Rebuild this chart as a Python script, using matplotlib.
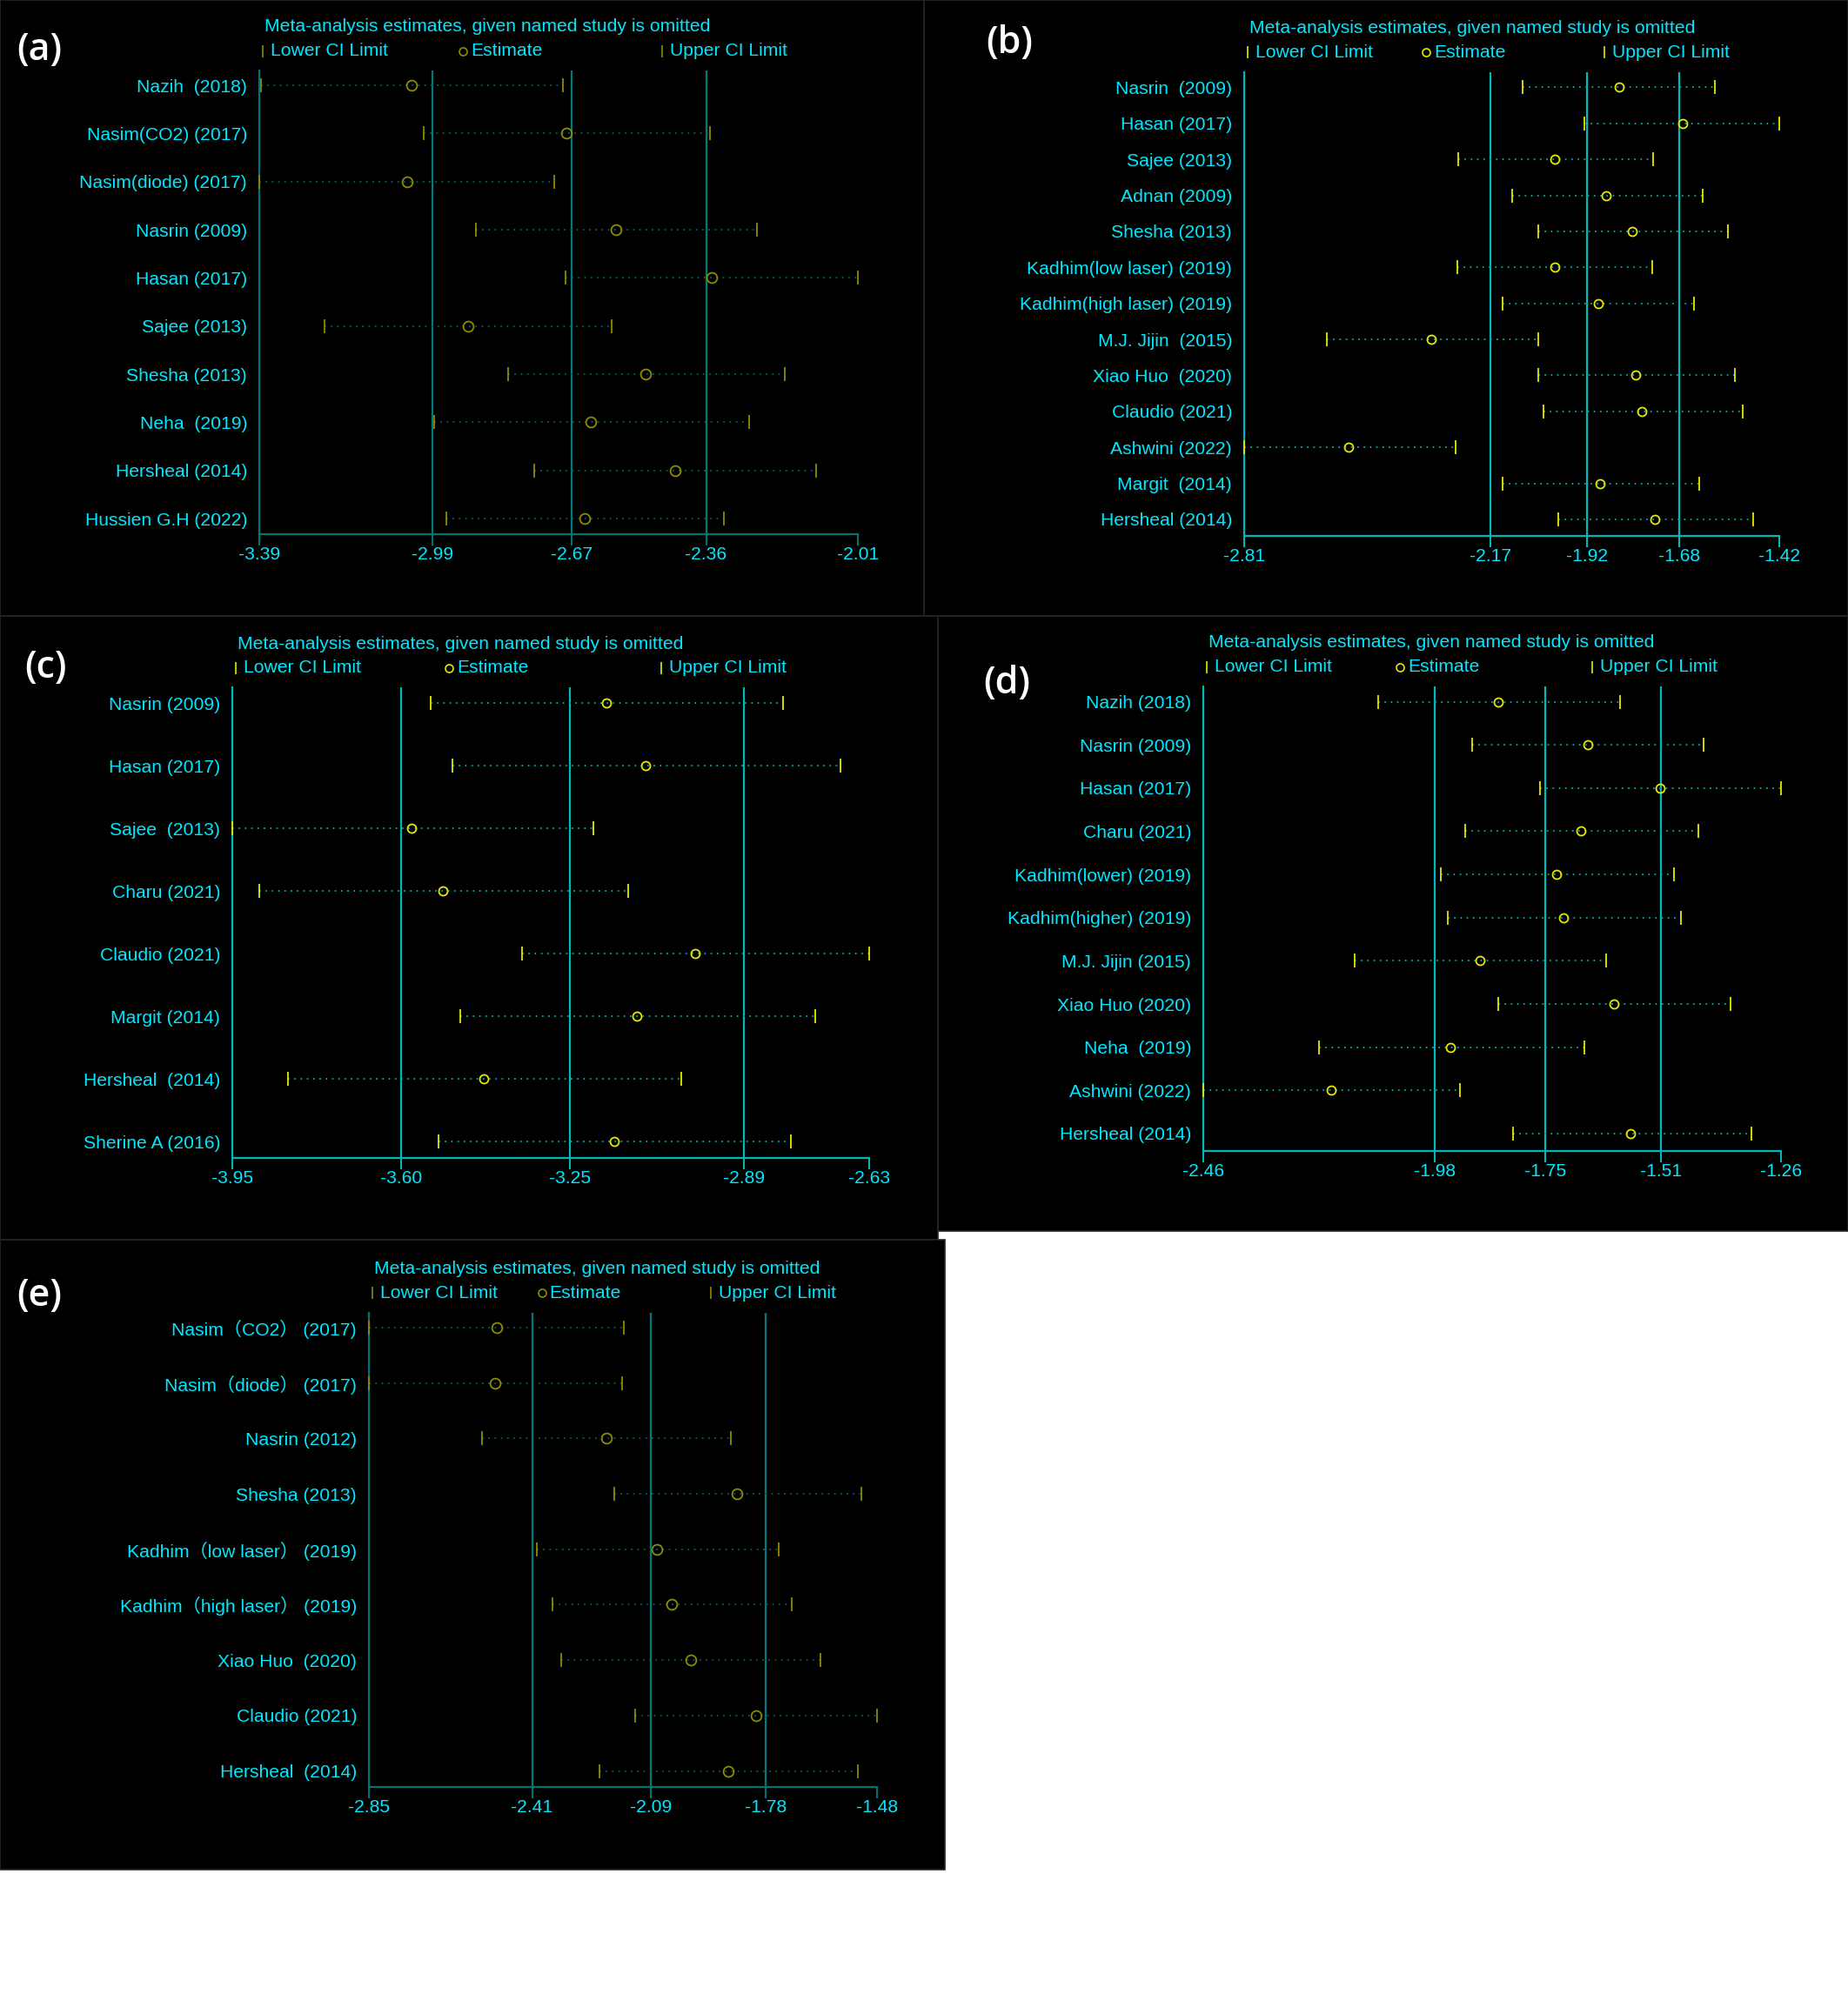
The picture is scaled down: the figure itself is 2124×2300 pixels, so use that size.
import matplotlib
matplotlib.use("Agg")
import matplotlib.pyplot as plt
from matplotlib.patches import Rectangle

plt.rcParams['font.family'] = ['Liberation Sans', 'Noto Sans CJK SC', 'DejaVu Sans']

# ------------------------------------------------------------
# Data: leave-one-out meta-analysis estimates
# ------------------------------------------------------------
a_labels = ["Nazih  (2018)", "Nasim(CO2) (2017)", "Nasim(diode) (2017)", "Nasrin (2009)",
            "Hasan (2017)", "Sajee (2013)", "Shesha (2013)", "Neha  (2019)",
            "Hersheal (2014)", "Hussien G.H (2022)"]
a_lower = [-3.386, -3.010, -3.390, -2.891, -2.683, -3.239, -2.817, -2.987, -2.756, -2.959]
a_est = [-3.038, -2.681, -3.050, -2.568, -2.347, -2.909, -2.499, -2.625, -2.432, -2.640]
a_upper = [-2.690, -2.351, -2.711, -2.243, -2.010, -2.578, -2.178, -2.261, -2.107, -2.319]
a_ticks = [-3.39, -2.99, -2.67, -2.36, -2.01]

b_labels = ["Nasrin  (2009)", "Hasan (2017)", "Sajee (2013)", "Adnan (2009)", "Shesha (2013)",
            "Kadhim(low laser) (2019)", "Kadhim(high laser) (2019)", "M.J. Jijin  (2015)",
            "Xiao Huo  (2020)", "Claudio (2021)", "Ashwini (2022)", "Margit  (2014)",
            "Hersheal (2014)"]
b_lower = [-2.086, -1.926, -2.254, -2.113, -2.047, -2.256, -2.139, -2.596, -2.047, -2.032,
           -2.810, -2.139, -1.994]
b_est = [-1.836, -1.672, -2.003, -1.870, -1.801, -2.004, -1.890, -2.323, -1.793, -1.777,
         -2.539, -1.885, -1.743]
b_upper = [-1.587, -1.420, -1.747, -1.620, -1.553, -1.750, -1.642, -2.047, -1.536, -1.516,
           -2.260, -1.627, -1.487]
b_ticks = [-2.81, -2.17, -1.92, -1.68, -1.42]

c_labels = ["Nasrin (2009)", "Hasan (2017)", "Sajee  (2013)", "Charu (2021)",
            "Claudio (2021)", "Margit (2014)", "Hersheal  (2014)", "Sherine A (2016)"]
c_lower = [-3.539, -3.493, -3.950, -3.895, -3.350, -3.477, -3.835, -3.522]
c_est = [-3.175, -3.093, -3.579, -3.514, -2.991, -3.112, -3.428, -3.159]
c_upper = [-2.808, -2.690, -3.202, -3.129, -2.630, -2.742, -3.019, -2.793]
c_ticks = [-3.95, -3.60, -3.25, -2.89, -2.63]

d_labels = ["Nazih (2018)", "Nasrin (2009)", "Hasan (2017)", "Charu (2021)",
            "Kadhim(lower) (2019)", "Kadhim(higher) (2019)", "M.J. Jijin (2015)",
            "Xiao Huo (2020)", "Neha  (2019)", "Ashwini (2022)", "Hersheal (2014)"]
d_lower = [-2.097, -1.902, -1.761, -1.916, -1.966, -1.952, -2.145, -1.847, -2.219, -2.460, -1.816]
d_est = [-1.847, -1.662, -1.511, -1.675, -1.726, -1.711, -1.885, -1.607, -1.946, -2.195, -1.572]
d_upper = [-1.595, -1.421, -1.260, -1.432, -1.483, -1.468, -1.624, -1.364, -1.669, -1.927, -1.322]
d_ticks = [-2.46, -1.98, -1.75, -1.51, -1.26]

e_labels = ["Nasim（CO2） (2017)", "Nasim（diode） (2017)", "Nasrin (2012)", "Shesha (2013)",
            "Kadhim（low laser） (2019)", "Kadhim（high laser） (2019)", "Xiao Huo  (2020)",
            "Claudio (2021)", "Hersheal  (2014)"]
e_lower = [-2.850, -2.850, -2.545, -2.188, -2.398, -2.356, -2.331, -2.132, -2.229]
e_est = [-2.506, -2.509, -2.209, -1.857, -2.074, -2.033, -1.982, -1.806, -1.880]
e_upper = [-2.163, -2.168, -1.873, -1.522, -1.746, -1.710, -1.633, -1.480, -1.532]
e_ticks = [-2.85, -2.41, -2.09, -1.78, -1.48]

# ------------------------------------------------------------
# Styling
# ------------------------------------------------------------
W, H = 2124, 2300
TEXT = '#00E8FF'
FS = 15.2
DIM = dict(marker='#8C8C00', dots='#006262', vline='#007A7A', spine='#007272', ms_o=8.5)
BRIGHT = dict(marker='#E8E800', dots='#00A8A8', vline='#00B8B8', spine='#00B8B8', ms_o=7.2)

# panel layout in pixels: background box, axes box, first/last row centre, label centre
panels = [
    dict(tag='(a)', labels=a_labels, lo=a_lower, est=a_est, hi=a_upper, ticks=a_ticks, style=DIM,
         bg=(0, 0, 1062, 708), box=(298, 81, 986, 614), rows=(98, 596), tagxy=(45, 57)),
    dict(tag='(b)', labels=b_labels, lo=b_lower, est=b_est, hi=b_upper, ticks=b_ticks, style=BRIGHT,
         bg=(1062, 0, 2124, 708), box=(1430, 83, 2045, 616), rows=(100.5, 597), tagxy=(1160, 50)),
    dict(tag='(c)', labels=c_labels, lo=c_lower, est=c_est, hi=c_upper, ticks=c_ticks, style=BRIGHT,
         bg=(0, 708, 1078, 1425), box=(267, 790, 999, 1331), rows=(808, 1312), tagxy=(52, 767)),
    dict(tag='(d)', labels=d_labels, lo=d_lower, est=d_est, hi=d_upper, ticks=d_ticks, style=BRIGHT,
         bg=(1078, 708, 2124, 1415), box=(1383, 789, 2047, 1323), rows=(806.5, 1303), tagxy=(1157, 786)),
    dict(tag='(e)', labels=e_labels, lo=e_lower, est=e_est, hi=e_upper, ticks=e_ticks, style=DIM,
         bg=(0, 1425, 1086, 2149), box=(424, 1508.5, 1008, 2054), rows=(1526, 2035.5), tagxy=(45, 1490)),
]

fig = plt.figure(figsize=(W / 100, H / 100), dpi=100, facecolor='white')


def draw_panel(p):
    st = p['style']
    x0, y0, x1, y1 = p['bg']
    fig.add_artist(Rectangle((x0 / W, 1 - y1 / H), (x1 - x0) / W, (y1 - y0) / H,
                             transform=fig.transFigure, facecolor='black',
                             edgecolor='#262626', lw=1.2, zorder=-10))

    l, t, r, b = p['box']
    ax = fig.add_axes([l / W, 1 - b / H, (r - l) / W, (b - t) / H])
    ax.set_facecolor('none')

    n = len(p['labels'])
    first, last = p['rows']
    step = (last - first) / (n - 1)
    ax.set_ylim((n - 1) + (b - last) / step, -(first - t) / step)
    ax.set_xlim(p['ticks'][0], p['ticks'][-1])

    ys = list(range(n))
    for v in p['ticks'][1:-1]:
        ax.axvline(v, color=st['vline'], lw=1.6, zorder=1)
    ax.hlines(ys, p['lo'], p['hi'], colors=st['dots'], linestyles=(0, (1, 3)), lw=1.3, zorder=2)
    ax.plot(p['lo'], ys, '|', color=st['marker'], ms=11.5, mew=1.3, ls='none', clip_on=False, zorder=3)
    ax.plot(p['hi'], ys, '|', color=st['marker'], ms=11.5, mew=1.3, ls='none', clip_on=False, zorder=3)
    ax.plot(p['est'], ys, 'o', mfc='none', mec=st['marker'], ms=st['ms_o'], mew=1.3, ls='none',
            clip_on=False, zorder=4)

    for side in ('top', 'right'):
        ax.spines[side].set_visible(False)
    for side in ('left', 'bottom'):
        ax.spines[side].set_color(st['spine'])
        ax.spines[side].set_linewidth(1.6)

    ax.set_yticks(ys)
    ax.set_yticklabels(p['labels'])
    ax.set_xticks(p['ticks'])
    ax.set_xticklabels([f'{v:.2f}' for v in p['ticks']])
    ax.tick_params(axis='y', length=0, pad=10, labelcolor=TEXT, labelsize=FS)
    ax.tick_params(axis='x', length=9, width=1.5, color=st['spine'], pad=1,
                   labelcolor=TEXT, labelsize=FS)

    # title and legend row above the plot area
    w, h = r - l, b - t
    ax.text(6 / w, 1 + 50 / h, 'Meta-analysis estimates, given named study is omitted',
            transform=ax.transAxes, color=TEXT, fontsize=FS, ha='left', va='center')
    yl = 1 + 22.5 / h
    items = [(0.006, '|', 'Lower CI Limit'), (0.34, 'o', 'Estimate'), (0.673, '|', 'Upper CI Limit')]
    for fx, mk, txt in items:
        if mk == 'o':
            ax.plot([fx], [yl], 'o', mfc='none', mec=st['marker'], ms=6.5, mew=1.2,
                    transform=ax.transAxes, clip_on=False)
        else:
            ax.plot([fx], [yl], '|', color=st['marker'], ms=10, mew=1.2,
                    transform=ax.transAxes, clip_on=False)
        ax.text(fx + 9 / w, yl, txt, transform=ax.transAxes, color=TEXT, fontsize=FS,
                ha='left', va='center')

    cx, cy = p['tagxy']
    fig.text(cx / W, 1 - cy / H, p['tag'], color='white', fontsize=31, family='Open Sans',
             fontweight='semibold', ha='center', va='center')


for p in panels:
    draw_panel(p)

fig.savefig('out.png', dpi=100, facecolor='white')
